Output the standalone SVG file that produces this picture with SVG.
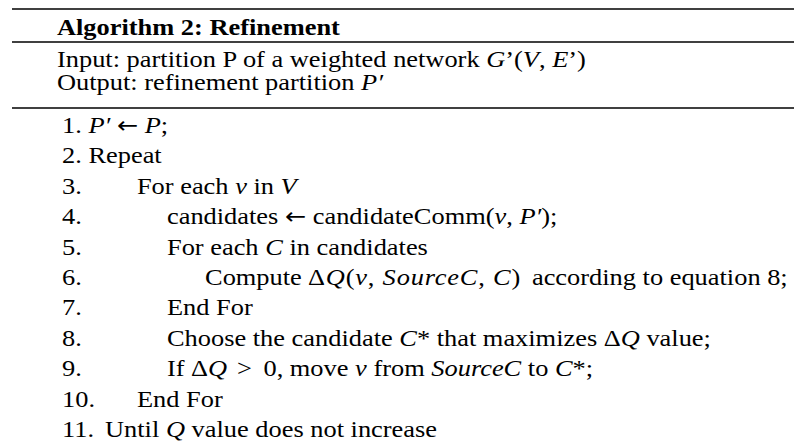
<svg xmlns="http://www.w3.org/2000/svg" width="794" height="447" viewBox="0 0 794 447">
  <style>
    .t { font-family: "Liberation Serif", "Times New Roman", serif; font-size: 24px; fill: #000; }
    .b { font-weight: bold; }
    .i { font-style: italic; }
    .arr { font-family: "DejaVu Sans", sans-serif; font-size: 23px; }
    .rule { stroke: #000; stroke-width: 1.5; }
  </style>
  <rect width="794" height="447" fill="#fff"/>

  <!-- table rules -->
  <g id="rules">
    <line class="rule" x1="12" y1="9" x2="794" y2="9"/>
    <line class="rule" x1="12" y1="42" x2="794" y2="42"/>
    <line class="rule" x1="12" y1="108" x2="794" y2="108"/>
  </g>

  <!-- text is set at 24px and widened horizontally -->
  <g transform="scale(1.1 1)">
    <g id="header">
      <text class="t b" x="51.8" y="35">Algorithm 2: Refinement</text>
      <text class="t" x="51.8" y="66.7">Input: partition P of a weighted network <tspan class="i">G</tspan>’(<tspan class="i">V</tspan>, <tspan class="i">E</tspan>’)</text>
      <text class="t" x="51.8" y="90">Output: refinement partition <tspan class="i">P′</tspan></text>
    </g>

    <g id="step1"><text class="t" x="56.4" y="133">1. <tspan class="i">P′</tspan> <tspan class="arr">←</tspan> <tspan class="i">P</tspan>;</text></g>
    <g id="step2"><text class="t" x="56.4" y="163.4">2. Repeat</text></g>
    <g id="step3">
      <text class="t" x="56.4" y="193.8">3.</text>
      <text class="t" x="124.5" y="193.8">For each <tspan class="i">v</tspan> in <tspan class="i">V</tspan></text>
    </g>
    <g id="step4">
      <text class="t" x="56.4" y="224.2">4.</text>
      <text class="t" x="151.8" y="224.2">candidates <tspan class="arr">←</tspan> candidateComm(<tspan class="i">v</tspan>, <tspan class="i">P′</tspan>);</text>
    </g>
    <g id="step5">
      <text class="t" x="56.4" y="254.6">5.</text>
      <text class="t" x="151.8" y="254.6">For each <tspan class="i">C</tspan> in candidates</text>
    </g>
    <g id="step6">
      <text class="t" x="56.4" y="285">6.</text>
      <text class="t" x="186.4" y="285">Compute</text>
      <text class="t" x="280" y="285" textLength="193" lengthAdjust="spacing">Δ<tspan class="i">Q</tspan>(<tspan class="i">v</tspan>, <tspan class="i">SourceC</tspan>, <tspan class="i">C</tspan>)</text>
      <text class="t" x="483.6" y="285">according to equation 8;</text>
    </g>
    <g id="step7">
      <text class="t" x="56.4" y="315.4">7.</text>
      <text class="t" x="151.8" y="315.4">End For</text>
    </g>
    <g id="step8">
      <text class="t" x="56.4" y="345.8">8.</text>
      <text class="t" x="151.8" y="345.8">Choose the candidate <tspan class="i">C</tspan>* that maximizes Δ<tspan class="i">Q</tspan> value;</text>
    </g>
    <g id="step9">
      <text class="t" x="56.4" y="376.2">9.</text>
      <text class="t" x="151.8" y="376.2">If</text>
      <text class="t" x="173.6" y="376.2">Δ<tspan class="i">Q</tspan></text>
      <text class="t" x="215.5" y="376.2">&gt;</text>
      <text class="t" x="239.5" y="376.2">0</text>
      <text class="t" x="251.5" y="376.2">, move <tspan class="i">v</tspan> from <tspan class="i">SourceC</tspan> to <tspan class="i">C</tspan>*;</text>
    </g>
    <g id="step10">
      <text class="t" x="56.4" y="406.6">10.</text>
      <text class="t" x="124.5" y="406.6">End For</text>
    </g>
    <g id="step11">
      <text class="t" x="56.4" y="437">11.</text>
      <text class="t" x="95.5" y="437">Until <tspan class="i">Q</tspan> value does not increase</text>
    </g>
  </g>
</svg>
